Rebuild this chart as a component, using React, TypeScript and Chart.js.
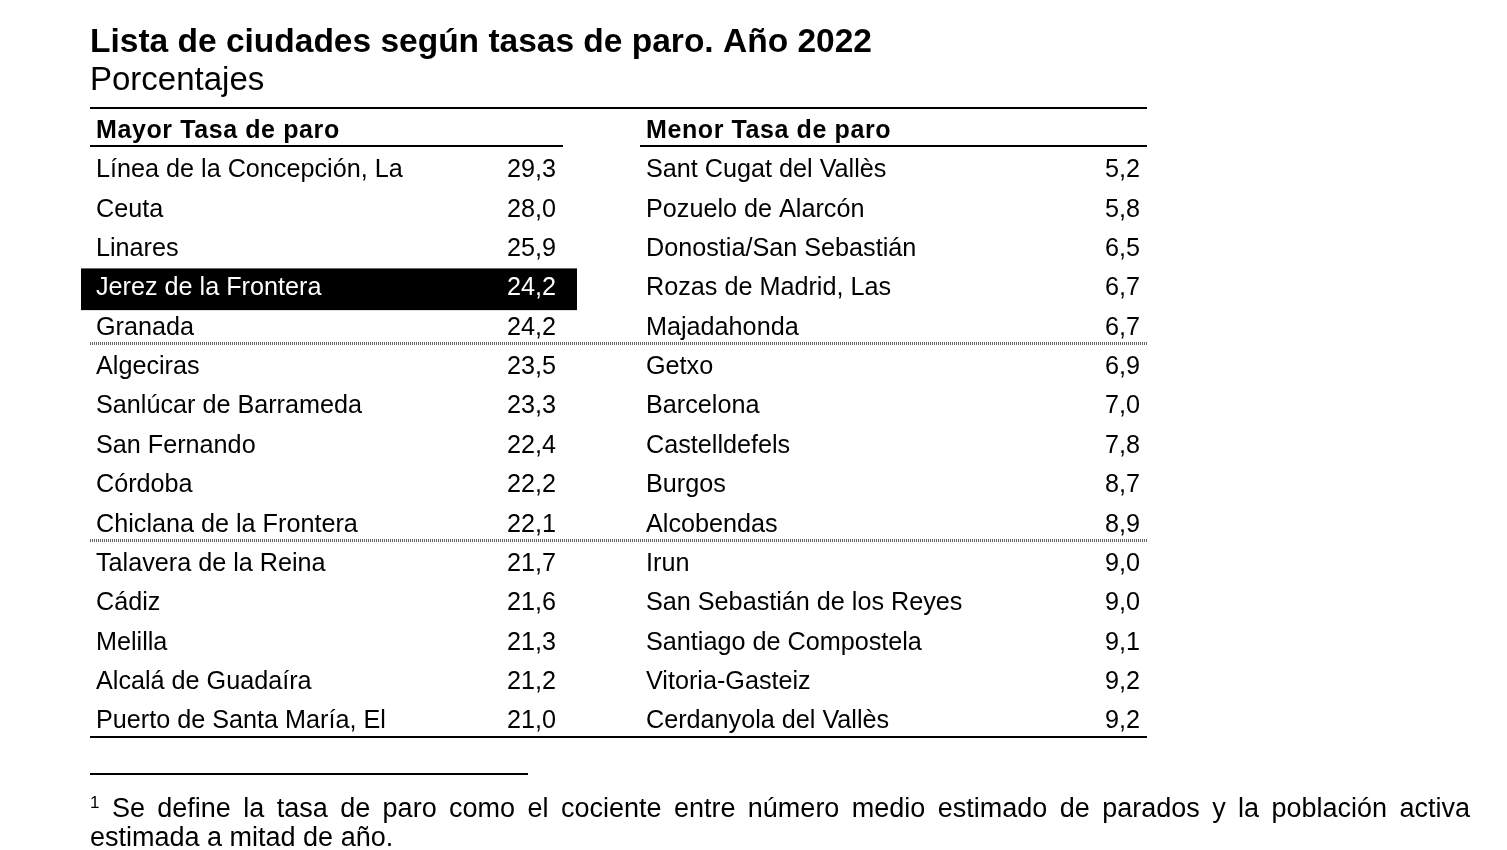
import { useEffect, useRef } from 'react';
import { Chart, registerables } from 'chart.js';

Chart.register(...registerables);

const TITLE = 'Lista de ciudades según tasas de paro. Año 2022';
const SUBTITLE = 'Porcentajes';
const HEADER_HIGH = 'Mayor Tasa de paro';
const HEADER_LOW = 'Menor Tasa de paro';

const HIGH_CITIES = [
  'Línea de la Concepción, La',
  'Ceuta',
  'Linares',
  'Jerez de la Frontera',
  'Granada',
  'Algeciras',
  'Sanlúcar de Barrameda',
  'San Fernando',
  'Córdoba',
  'Chiclana de la Frontera',
  'Talavera de la Reina',
  'Cádiz',
  'Melilla',
  'Alcalá de Guadaíra',
  'Puerto de Santa María, El',
];
const HIGH_RATES = [29.3, 28.0, 25.9, 24.2, 24.2, 23.5, 23.3, 22.4, 22.2, 22.1, 21.7, 21.6, 21.3, 21.2, 21.0];

const LOW_CITIES = [
  'Sant Cugat del Vallès',
  'Pozuelo de Alarcón',
  'Donostia/San Sebastián',
  'Rozas de Madrid, Las',
  'Majadahonda',
  'Getxo',
  'Barcelona',
  'Castelldefels',
  'Burgos',
  'Alcobendas',
  'Irun',
  'San Sebastián de los Reyes',
  'Santiago de Compostela',
  'Vitoria-Gasteiz',
  'Cerdanyola del Vallès',
];
const LOW_RATES = [5.2, 5.8, 6.5, 6.7, 6.7, 6.9, 7.0, 7.8, 8.7, 8.9, 9.0, 9.0, 9.1, 9.2, 9.2];

const HIGHLIGHT_CITY = 'Jerez de la Frontera';
const GROUP_SIZE = 5;
const FOOTNOTE_MARK = '1';
const FOOTNOTE =
  'Se define la tasa de paro como el cociente entre número medio estimado de parados y la población activa estimada a mitad de año.';

// column anchors in x-scale units (scale spans the table width)
const COL = {
  leftStart: 0,
  leftName: 6,
  leftValue: 466,
  leftEnd: 473,
  rightStart: 550,
  rightName: 556,
  rightValue: 1050,
  end: 1057,
  hlStart: -9,
  hlEnd: 487,
};

const FONT = '"Liberation Sans", Arial, Helvetica, sans-serif';
const TEXT_SHIFT = 2;
const fmt = (v: number) => v.toFixed(1).replace('.', ',');

const tablePlugin = {
  id: 'cityTable',
  beforeDatasetsDraw(chart: any) {
    const { ctx, scales } = chart;
    const x = scales.x;
    const y = scales.y;
    const hi = HIGH_CITIES.indexOf(HIGHLIGHT_CITY);
    if (hi >= 0) {
      const top = y.getPixelForValue(hi - 0.46);
      const bottom = y.getPixelForValue(hi + 0.6);
      const left = x.getPixelForValue(COL.hlStart);
      const right = x.getPixelForValue(COL.hlEnd);
      ctx.save();
      ctx.fillStyle = '#000';
      ctx.fillRect(left, top, right - left, bottom - top);
      ctx.restore();
    }
  },
  afterDatasetsDraw(chart: any) {
    const { ctx, scales } = chart;
    const x = scales.x;
    const y = scales.y;
    const n = HIGH_CITIES.length;
    ctx.save();

    const hline = (v: number, x0: number, x1: number, dotted = false) => {
      const py = Math.round(y.getPixelForValue(v));
      ctx.beginPath();
      if (dotted) {
        ctx.strokeStyle = '#666';
        ctx.lineWidth = 3;
        ctx.setLineDash([1, 1]);
      } else {
        ctx.strokeStyle = '#000';
        ctx.lineWidth = 2;
        ctx.setLineDash([]);
      }
      ctx.moveTo(x.getPixelForValue(x0), py + (dotted ? 0.5 : 0));
      ctx.lineTo(x.getPixelForValue(x1), py + (dotted ? 0.5 : 0));
      ctx.stroke();
    };

    // rules
    hline(y.min, COL.leftStart, COL.end);
    hline(-0.56, COL.leftStart, COL.leftEnd);
    hline(-0.56, COL.rightStart, COL.end);
    for (let k = GROUP_SIZE; k < n; k += GROUP_SIZE) {
      hline(k - 0.56, COL.leftStart, COL.end, true);
    }
    hline(y.max, COL.leftStart, COL.end);

    // headers
    ctx.setLineDash([]);
    ctx.fillStyle = '#000';
    ctx.textBaseline = 'middle';
    ctx.textAlign = 'left';
    ctx.font = `bold 25px ${FONT}`;
    (ctx as any).letterSpacing = '0.6px';
    const hy = y.getPixelForValue(-1) + TEXT_SHIFT;
    ctx.fillText(HEADER_HIGH, x.getPixelForValue(COL.leftName), hy);
    ctx.fillText(HEADER_LOW, x.getPixelForValue(COL.rightName), hy);
    (ctx as any).letterSpacing = '0px';

    // rows
    ctx.font = `25.2px ${FONT}`;
    const highMeta = chart.getDatasetMeta(0);
    const lowMeta = chart.getDatasetMeta(1);
    HIGH_CITIES.forEach((c, i) => {
      const py = highMeta.data[i].y + TEXT_SHIFT;
      ctx.fillStyle = c === HIGHLIGHT_CITY ? '#fff' : '#000';
      ctx.textAlign = 'left';
      ctx.fillText(c, x.getPixelForValue(COL.leftName), py);
      ctx.textAlign = 'right';
      ctx.fillText(fmt(HIGH_RATES[i]), highMeta.data[i].x, py);
    });
    ctx.fillStyle = '#000';
    LOW_CITIES.forEach((c, i) => {
      const py = lowMeta.data[i].y + TEXT_SHIFT;
      ctx.textAlign = 'left';
      ctx.fillText(c, x.getPixelForValue(COL.rightName), py);
      ctx.textAlign = 'right';
      ctx.fillText(fmt(LOW_RATES[i]), lowMeta.data[i].x, py);
    });
    ctx.restore();
  },
};

export default function App() {
  const canvasRef = useRef<HTMLCanvasElement | null>(null);

  useEffect(() => {
    if (!canvasRef.current) return;
    const chart = new Chart(canvasRef.current, {
      type: 'scatter',
      data: {
        datasets: [
          {
            label: HEADER_HIGH,
            data: HIGH_RATES.map((v, i) => ({ x: COL.leftValue, y: i, v })),
            pointRadius: 0,
          },
          {
            label: HEADER_LOW,
            data: LOW_RATES.map((v, i) => ({ x: COL.rightValue, y: i, v })),
            pointRadius: 0,
          },
        ],
      },
      options: {
        animation: false,
        responsive: false,
        layout: { padding: { left: 90, right: 360, top: 0, bottom: 113 } },
        scales: {
          x: { type: 'linear', min: COL.leftStart, max: COL.end, display: false },
          y: { type: 'linear', min: -1.55, max: 14.45, reverse: true, display: false },
        },
        plugins: {
          legend: { display: false },
          tooltip: { enabled: false },
          title: {
            display: true,
            text: TITLE,
            align: 'start',
            color: '#000',
            font: { family: FONT, size: 33.5, weight: 'bold', lineHeight: 1 },
            padding: { top: 26, bottom: 0 },
          },
          subtitle: {
            display: true,
            text: SUBTITLE,
            align: 'start',
            color: '#000',
            font: { family: FONT, size: 33, weight: 'normal', lineHeight: 1 },
            padding: { top: 4.5, bottom: 10.5 },
          },
        },
      },
      plugins: [tablePlugin],
    });
    return () => chart.destroy();
  }, []);

  return (
    <div style={{ position: 'absolute', left: 0, top: 0, width: 1507, height: 850, overflow: 'hidden', background: '#fff' }}>
      <canvas ref={canvasRef} width={1507} height={850} style={{ display: 'block' }} />
      <div style={{ position: 'absolute', left: 90, top: 773, width: 438, height: 2, background: '#000' }} />
      <div
        style={{
          position: 'absolute',
          left: 90,
          top: 794,
          width: 1380,
          fontFamily: FONT,
          fontSize: 27,
          lineHeight: '29px',
          textAlign: 'justify',
          color: '#000',
        }}
      >
        <span style={{ fontSize: 17, position: 'relative', top: -9, lineHeight: '0px' }}>{FOOTNOTE_MARK}</span> {FOOTNOTE}
      </div>
    </div>
  );
}
